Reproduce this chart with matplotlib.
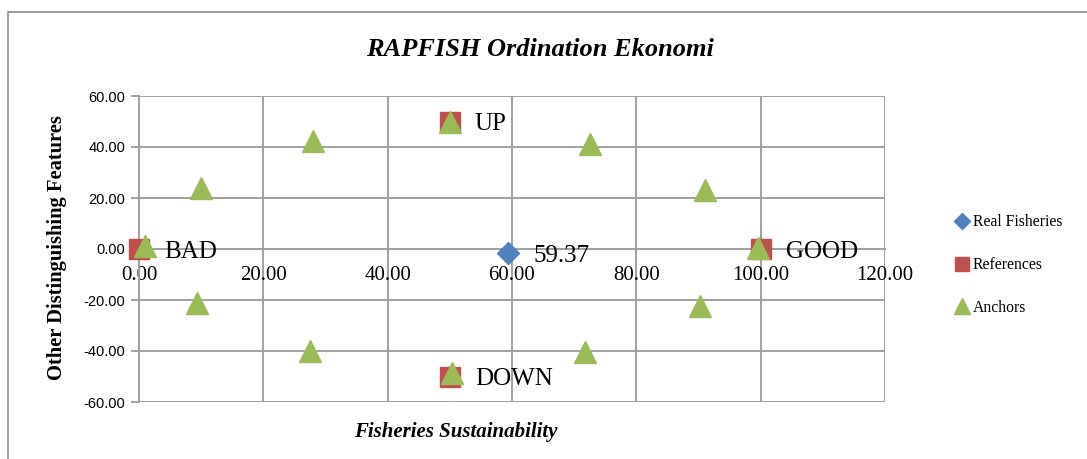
import matplotlib
matplotlib.use('Agg')
import matplotlib.pyplot as plt
from matplotlib.patches import Rectangle

# Real fisheries point
real_x = [59.37]
real_y = [-1.6]
real_label = '59.37'

# Reference points
ref_x = [0, 100, 50, 50]
ref_y = [0, 0, 50, -50]
ref_labels = ['BAD', 'GOOD', 'UP', 'DOWN']

# Anchor points
anchor_x = [1, 10, 28, 50, 72.6, 91, 99.6, 90.2, 71.8, 50.3, 27.5, 9.3]
anchor_y = [1, 24, 42.4, 50, 41.2, 23, 0.4, -22.4, -40.4, -48.6, -40, -21.2]

xticks = [0, 20, 40, 60, 80, 100, 120]
yticks = [-60, -40, -20, 0, 20, 40, 60]

serif = ['Liberation Serif', 'DejaVu Serif']
narrow = ['Liberation Sans Narrow', 'Liberation Sans', 'DejaVu Sans']
grid_col = '#a0a0a0'

fig = plt.figure(figsize=(10.87, 4.59), dpi=100)
fig.patches.append(Rectangle((8 / 1087, -0.1), 1.2, 0.974 + 0.1,
                             transform=fig.transFigure, fill=False,
                             edgecolor='#8c8c8c', linewidth=1.2))
ax = fig.add_axes([139 / 1087, 1 - 402 / 459, (885 - 139) / 1087, (402 - 96) / 459])

# spine placement first, it resets the tick objects
for s in ['top', 'right']:
    ax.spines[s].set_visible(False)
ax.spines['bottom'].set_position(('data', 0))
ax.spines['left'].set_color(grid_col)
ax.spines['left'].set_linewidth(1.4)
ax.spines['bottom'].set_color(grid_col)
ax.spines['bottom'].set_linewidth(1.4)

ax.plot(real_x, real_y, 'D', color='#4f81bd', markersize=11, label='Real Fisheries',
        linestyle='none', zorder=5, clip_on=False)
ax.plot(ref_x, ref_y, 's', color='#c0504d', markersize=14, label='References',
        linestyle='none', zorder=4, clip_on=False)
ax.plot(anchor_x, anchor_y, '^', color='#9bbb59', markersize=16, label='Anchors',
        linestyle='none', zorder=6, clip_on=False)

ax.annotate(real_label, (real_x[0], real_y[0]), xytext=(18, -2), textcoords='offset points',
            va='center', ha='left', fontsize=18, family=serif, zorder=7)
for lx, ly, lab in zip(ref_x, ref_y, ref_labels):
    ax.annotate(lab, (lx, ly), xytext=(18, -2), textcoords='offset points',
                va='center', ha='left', fontsize=18, family=serif, zorder=7)

ax.set_xlim(0, 120)
ax.set_ylim(-60, 60)
ax.grid(True, color=grid_col, linewidth=1.4)
ax.set_axisbelow(True)
ax.tick_params(axis='x', length=0, pad=12)
ax.tick_params(axis='y', length=6, width=1.4, color=grid_col, direction='out', pad=4)
ax.set_xticks(xticks)
ax.set_yticks(yticks)
ax.set_xticklabels([f'{v:.2f}' for v in xticks], family=serif, fontsize=15)
ax.set_yticklabels([f'{v:.2f}' for v in yticks], family=narrow, fontsize=10.5)

fig.text(540 / 1087, 1 - 50 / 459, 'RAPFISH Ordination Ekonomi', ha='center', va='center',
         fontsize=19, fontweight='bold', style='italic', family=serif)
fig.text(57 / 1087, 1 - 248 / 459, 'Other Distinguishing Features', ha='center', va='center',
         rotation=90, fontsize=14.8, fontweight='bold', family=serif)
fig.text(456 / 1087, 1 - 432 / 459, 'Fisheries Sustainability', ha='center', va='center',
         fontsize=15, fontweight='bold', style='italic', family=serif)

leg = fig.legend(loc='center left', bbox_to_anchor=(940 / 1087, 1 - 265 / 459),
                 frameon=False, prop={'family': serif, 'size': 11.3},
                 handlelength=1.0, handletextpad=0.2, labelspacing=1.7, markerscale=0.75)

fig.savefig('out.png', dpi=100)
